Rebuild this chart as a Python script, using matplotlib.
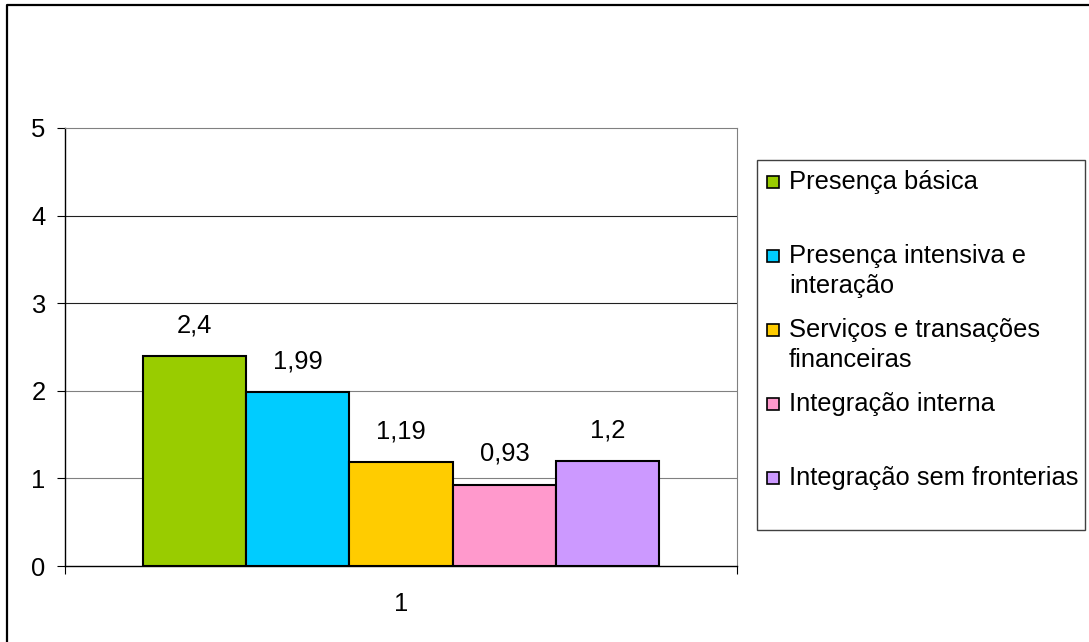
import matplotlib
matplotlib.use("Agg")
import matplotlib.pyplot as plt
from matplotlib.patches import Rectangle
from matplotlib.lines import Line2D

plt.rcParams['font.family'] = ['Liberation Sans', 'DejaVu Sans']

# Data
series = ["Presença básica",
          "Presença intensiva e\ninteração",
          "Serviços e transações\nfinanceiras",
          "Integração interna",
          "Integração sem fronterias"]
values = [2.4, 1.99, 1.19, 0.93, 1.2]
colors = ["#99CC00", "#00CCFF", "#FFCC00", "#FF99CC", "#CC99FF"]
category = "1"
yticks = [0, 1, 2, 3, 4, 5]

FS = 18.4
W, H = 1089, 642
fig = plt.figure(figsize=(W / 100, H / 100), dpi=100)


def fx(x):
    return x / W


def fy(y):
    return 1 - y / H


# Plot area
ax = fig.add_axes([fx(65), fy(566), fx(737) - fx(65), fy(128) - fy(566)])
n = len(values)
gap = 1.5
w = 1.0 / (n + gap)
start = -0.5 + gap * w / 2
for i, (v, c) in enumerate(zip(values, colors)):
    xc = start + (i + 0.5) * w
    ax.bar(xc, v, width=w, color=c, edgecolor="black", linewidth=1.5, zorder=3)
    ax.annotate(f"{v:g}".replace(".", ","), (xc, v), xytext=(0, 22),
                textcoords="offset points", ha="center", va="center",
                fontsize=FS, zorder=4)

ax.set_xlim(-0.5, 0.5)
ax.set_ylim(0, 5)
ax.set_yticks(yticks)
ax.set_yticklabels([str(t) for t in yticks], fontsize=FS)
ax.tick_params(axis="y", direction="out", length=6, width=0.8, pad=8)
ax.set_xticks([0])
ax.set_xticklabels([category], fontsize=FS)
ax.tick_params(axis="x", which="major", length=0, pad=19)
ax.set_xticks([-0.5, 0.5], minor=True)
ax.tick_params(axis="x", which="minor", direction="out", length=6, width=0.8)

for y, col in zip([1, 2, 3, 4], ["#808080", "#808080", "#202020", "#202020"]):
    ax.axhline(y, color=col, linewidth=0.8, zorder=1)

ax.spines["left"].set_color("black")
ax.spines["bottom"].set_color("black")
ax.spines["left"].set_linewidth(1.0)
ax.spines["bottom"].set_linewidth(1.0)
ax.spines["top"].set_color("#808080")
ax.spines["right"].set_color("#808080")
ax.spines["top"].set_linewidth(0.8)
ax.spines["right"].set_linewidth(0.8)

# Legend box
fig.add_artist(Rectangle((fx(757), fy(530)), fx(1085) - fx(757), fy(160) - fy(530),
                         transform=fig.transFigure, facecolor="white",
                         edgecolor="#404040", linewidth=1.0))
for i, (lab, c) in enumerate(zip(series, colors)):
    yc = 182 + 74 * i
    fig.add_artist(Rectangle((fx(767), fy(yc + 6)), fx(12), fy(0) - fy(12),
                             transform=fig.transFigure, facecolor=c,
                             edgecolor="black", linewidth=1.2))
    for j, line in enumerate(lab.split("\n")):
        fig.text(fx(789), fy(yc + 30 * j), line, fontsize=FS,
                 ha="left", va="center")

# Outer chart frame
fig.add_artist(Line2D([fx(7), fx(7), fx(W + 30)], [fy(H + 30), fy(5), fy(5)],
                      transform=fig.transFigure, color="black", linewidth=1.6))

fig.savefig("out.png", dpi=100)
